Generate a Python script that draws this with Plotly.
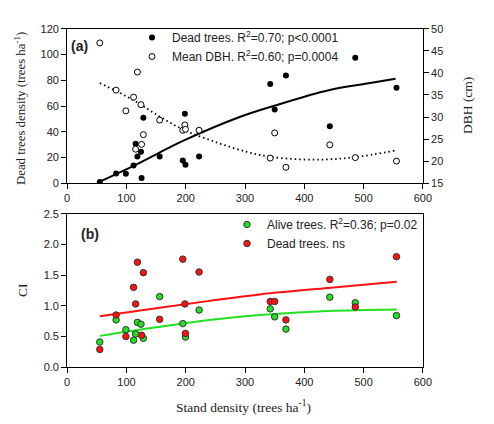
import plotly.graph_objects as go

# panel (a): dead tree density and mean DBH against stand density
dead_x = [55, 82.5, 99, 112, 115.5, 118.5, 124.5, 125.5, 128.5, 156,
          195, 198.5, 199.5, 222.5, 342.5, 350, 369, 443, 486, 555.5]
dead_density = [1.0, 7.5, 7.3, 13.7, 30.6, 20.7, 24.4, 4.1, 50.8, 20.7,
                17.6, 53.9, 14.3, 20.7, 77.2, 57.3, 83.7, 44.3, 97.5, 74.1]
dbh = [46.8, 36.1, 31.4, 34.5, 22.7, 40.2, 32.8, 23.8, 26.0, 29.3,
       27.0, 28.2, 27.2, 27.0, 20.7, 26.4, 18.6, 23.7, 20.8, 20.0]

dead_fit_x = [55, 112, 198, 292, 348, 441, 506, 554]
dead_fit_y = [1.2, 13.5, 33.4, 51.6, 60.0, 72.3, 77.5, 81.2]
dbh_fit_x = [55, 112, 155, 198, 253, 303, 342, 393, 441, 485, 554]
dbh_fit_y = [37.7, 33.8, 30.2, 27.0, 24.2, 22.1, 21.0, 20.4, 20.4, 20.9, 22.4]

# panel (b): competition index
alive_x = [55, 82.5, 99, 112, 115.5, 118.5, 124.5, 128.5, 156, 195,
           199.5, 222.5, 342.5, 350, 369, 443, 486, 555.5]
alive_ci = [0.41, 0.77, 0.61, 0.44, 0.54, 0.73, 0.70, 0.47, 1.15, 0.71,
            0.49, 0.93, 0.95, 0.82, 0.62, 1.14, 1.05, 0.84]
deadci_x = [55, 82.5, 99, 112, 115.5, 118.5, 125.5, 128.5, 156, 195,
            198.5, 199.5, 222.5, 342.5, 350, 369, 443, 486, 555.5]
dead_ci = [0.29, 0.85, 0.50, 1.30, 1.03, 1.71, 0.52, 1.54, 0.78, 1.76,
           1.03, 0.55, 1.55, 1.07, 1.07, 0.77, 1.43, 0.98, 1.80]

ci_fit_x = [55, 150, 240, 325, 440, 556]
alive_fit_y = [0.51, 0.65, 0.77, 0.85, 0.915, 0.94]
dead_fit_ci = [0.83, 0.96, 1.08, 1.185, 1.29, 1.39]

GREEN = '#22e022'
RED = '#ff1010'
sans = 'Liberation Sans, Arial, sans-serif'
serif = 'Liberation Serif, Times New Roman, serif'

fig = go.Figure()

fig.add_trace(go.Scatter(x=dead_fit_x, y=dead_fit_y, mode='lines', line_shape='spline',
                         line=dict(color='black', width=2), showlegend=False,
                         xaxis='x', yaxis='y'))
fig.add_trace(go.Scatter(x=dbh_fit_x, y=dbh_fit_y, mode='lines', line_shape='spline',
                         line=dict(color='black', width=1.8, dash='1.5px,3px'), showlegend=False,
                         xaxis='x', yaxis='y2'))
fig.add_trace(go.Scatter(x=dead_x, y=dead_density, mode='markers',
                         marker=dict(color='black', size=6),
                         name='Dead trees. R<sup>2</sup>=0.70; p<0.0001',
                         xaxis='x', yaxis='y', legend='legend'))
fig.add_trace(go.Scatter(x=dead_x, y=dbh, mode='markers',
                         marker=dict(color='white', size=6, line=dict(color='black', width=1)),
                         name='Mean DBH. R<sup>2</sup>=0.60; p=0.0004',
                         xaxis='x', yaxis='y2', legend='legend'))

fig.add_trace(go.Scatter(x=ci_fit_x, y=dead_fit_ci, mode='lines', line_shape='spline',
                         line=dict(color=RED, width=2), showlegend=False,
                         xaxis='x2', yaxis='y3'))
fig.add_trace(go.Scatter(x=ci_fit_x, y=alive_fit_y, mode='lines', line_shape='spline',
                         line=dict(color=GREEN, width=2), showlegend=False,
                         xaxis='x2', yaxis='y3'))
fig.add_trace(go.Scatter(x=alive_x, y=alive_ci, mode='markers',
                         marker=dict(color=GREEN, size=6.5, line=dict(color='#333', width=1)),
                         name='Alive trees. R<sup>2</sup>=0.36; p=0.02',
                         xaxis='x2', yaxis='y3', legend='legend2'))
fig.add_trace(go.Scatter(x=deadci_x, y=dead_ci, mode='markers',
                         marker=dict(color=RED, size=6.5, line=dict(color='#333', width=1)),
                         name='Dead trees. ns',
                         xaxis='x2', yaxis='y3', legend='legend2'))

ax = dict(showgrid=False, zeroline=False, showline=True, linecolor='black', linewidth=1,
          ticks='outside', ticklen=5, tickcolor='black', automargin=False,
          tickfont=dict(family=sans, size=11, color='#222'))


def label(text, x, y, angle=0, size=13.5, font=None):
    return dict(text=text, x=x / 494, y=1 - y / 424, xref='paper', yref='paper',
                xanchor='center', yanchor='middle', textangle=angle, showarrow=False,
                font=font or dict(family=serif, size=size, color='#222'))


bold = dict(family=sans, size=14, color='#222')

fig.update_layout(
    width=494, height=424,
    margin=dict(l=0, r=0, t=0, b=0),
    paper_bgcolor='white', plot_bgcolor='white',
    xaxis=dict(ax, domain=[0.136, 0.856], anchor='y', range=[0, 600], dtick=100, mirror=True),
    yaxis=dict(ax, domain=[0.568, 0.932], anchor='x', range=[0, 120], dtick=20),
    yaxis2=dict(ax, overlaying='y', side='right', anchor='x', range=[15, 50], dtick=5),
    xaxis2=dict(ax, domain=[0.136, 0.856], anchor='y3', range=[0, 600], dtick=100, mirror=True),
    yaxis3=dict(ax, domain=[0.134, 0.496], anchor='x2', range=[0, 2.5], dtick=0.5,
                tickformat='.1f', mirror=True),
    legend=dict(x=132 / 494, y=1 - 23 / 424, xanchor='left', yanchor='top',
                bgcolor='rgba(0,0,0,0)', font=dict(family=sans, size=12, color='#222'),
                itemwidth=30, tracegroupgap=0),
    legend2=dict(x=227 / 494, y=1 - 210 / 424, xanchor='left', yanchor='top',
                 bgcolor='rgba(0,0,0,0)', font=dict(family=sans, size=12, color='#222'),
                 itemwidth=30, tracegroupgap=0),
    annotations=[
        label('<b>(a)</b>', 79, 46, font=bold),
        label('<b>(b)</b>', 90, 234, font=bold),
        label('Dead trees density (trees ha<sup>-1</sup>)', 20, 109, angle=-90, size=12.8),
        label('DBH (cm)', 467, 106, angle=-90),
        label('CI', 22, 290, angle=-90),
        label('Stand density (trees ha<sup>-1</sup>)', 243, 406),
    ],
)

fig.write_html("out.html", config={'displayModeBar': False},
               post_script="document.body.style.margin='0';")
